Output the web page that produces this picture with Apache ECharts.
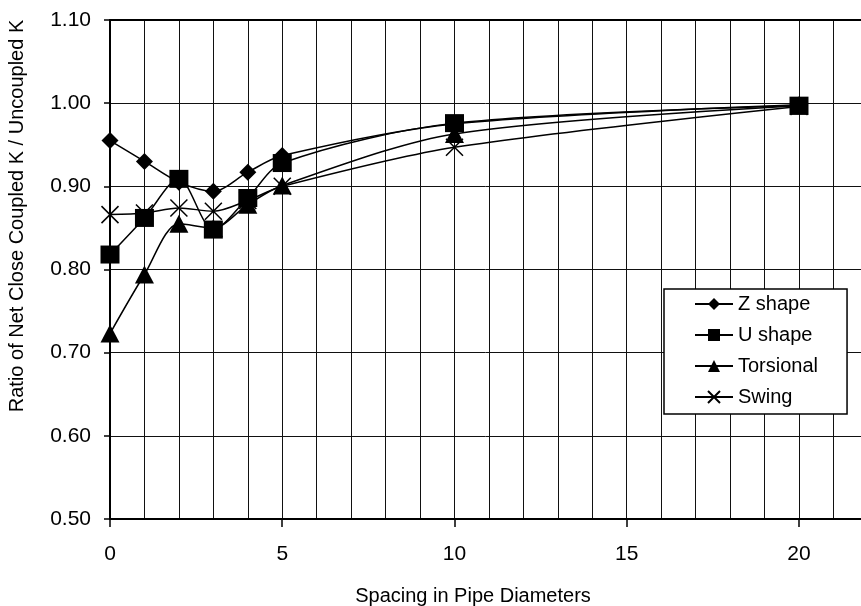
<!DOCTYPE html>
<html>
<head>
<meta charset="utf-8">
<script src="https://cdn.jsdelivr.net/npm/echarts@6/dist/echarts.min.js"></script>
<style>
html,body{margin:0;padding:0;background:#fff;}
#chart{width:861px;height:606px;}
</style>
</head>
<body>
<div id="chart"></div>
<script>
const spacing = [0, 1, 2, 3, 4, 5, 10, 20];
const zShape = [0.955, 0.930, 0.905, 0.894, 0.917, 0.937, 0.975, 0.998];
const uShape = [0.818, 0.862, 0.909, 0.848, 0.886, 0.928, 0.976, 0.997];
const torsional = [0.723, 0.794, 0.855, 0.850, 0.878, 0.901, 0.963, 0.997];
const swing = [0.866, 0.868, 0.874, 0.870, 0.883, 0.900, 0.947, 0.996];
const seriesNames = ['Z shape', 'U shape', 'Torsional', 'Swing'];
const xTickValues = [0, 5, 10, 15, 20];
const xAxisTitle = 'Spacing in Pipe Diameters';
const yAxisTitle = 'Ratio of Net Close Coupled K / Uncoupled K';

const FONT = '"Liberation Sans", Arial, sans-serif';
const pts = arr => spacing.map((x, i) => [x, arr[i]]);

const chart = echarts.init(document.getElementById('chart'), null, {renderer: 'canvas'});

function mk(name, data, symbol, size, extra) {
  return Object.assign({
    name: name,
    type: 'line',
    data: pts(data),
    smooth: 0.3,
    symbol: symbol,
    symbolSize: size,
    showSymbol: true,
    lineStyle: {color: '#000', width: 1.5},
    itemStyle: {color: '#000'},
    emphasis: {disabled: true},
    animation: false
  }, extra || {});
}

const XMAX = 21.8;

const option = {
  animation: false,
  backgroundColor: '#fff',
  textStyle: {fontFamily: FONT, color: '#000'},
  grid: {left: 110, top: 20, right: 0, bottom: 87, containLabel: false, outerBoundsMode: 'none'},
  legend: {
    orient: 'vertical',
    left: 664, top: 289,
    data: seriesNames,
    backgroundColor: '#fff',
    borderColor: '#000',
    borderWidth: 1.5,
    padding: [5, 29, 7, 30],
    itemWidth: 38,
    itemHeight: 15,
    itemGap: 11,
    textStyle: {fontFamily: FONT, fontSize: 20, color: '#000'},
    selectedMode: false
  },
  xAxis: [{
    type: 'value',
    min: 0, max: XMAX, interval: 1,
    name: xAxisTitle,
    nameLocation: 'middle',
    nameGap: 67,
    nameTextStyle: {fontFamily: FONT, fontSize: 20, color: '#000', padding: [0, 25, 0, 0]},
    axisLine: {show: true, lineStyle: {color: '#000', width: 2}},
    axisTick: {show: false},
    axisLabel: {fontFamily: FONT, fontSize: 21, color: '#000', margin: 25,
      formatter: v => (xTickValues.indexOf(v) >= 0) ? String(v) : ''},
    splitLine: {show: true, lineStyle: {color: '#111', width: 1}}
  }, {
    type: 'value',
    min: 0, max: XMAX, interval: 5,
    position: 'bottom',
    axisLine: {show: false},
    axisTick: {show: true, length: 8, customValues: xTickValues, lineStyle: {color: '#000', width: 1.5}},
    axisLabel: {show: false},
    splitLine: {show: false}
  }, {
    type: 'value',
    min: 0, max: XMAX, interval: 5,
    position: 'top',
    axisLine: {show: true, lineStyle: {color: '#000', width: 2}},
    axisTick: {show: false},
    axisLabel: {show: false},
    splitLine: {show: false}
  }],
  yAxis: {
    type: 'value',
    min: 0.5, max: 1.1, interval: 0.1,
    name: yAxisTitle,
    nameLocation: 'middle',
    nameGap: 83,
    nameTextStyle: {fontFamily: FONT, fontSize: 20, color: '#000', padding: [0, 0, 0, 107]},
    axisLine: {show: true, lineStyle: {color: '#000', width: 2}},
    axisTick: {show: true, length: 6, lineStyle: {color: '#000', width: 1.5}},
    axisLabel: {fontFamily: FONT, fontSize: 21, color: '#000', margin: 19,
      padding: [0, 0, 9, 0],
      formatter: v => v.toFixed(2)},
    splitLine: {show: true, lineStyle: {color: '#111', width: 1}}
  },
  series: [
    mk(seriesNames[0], zShape, 'diamond', [17, 17]),
    mk(seriesNames[1], uShape, 'rect', [19, 18]),
    mk(seriesNames[2], torsional, 'triangle', [19, 18]),
    mk(seriesNames[3], swing, 'path://M0,0L10,10M10,0L0,10', [17, 17], {
      itemStyle: {color: 'none', borderColor: '#000', borderWidth: 1.5}
    })
  ]
};
chart.setOption(option);
</script>
</body>
</html>
